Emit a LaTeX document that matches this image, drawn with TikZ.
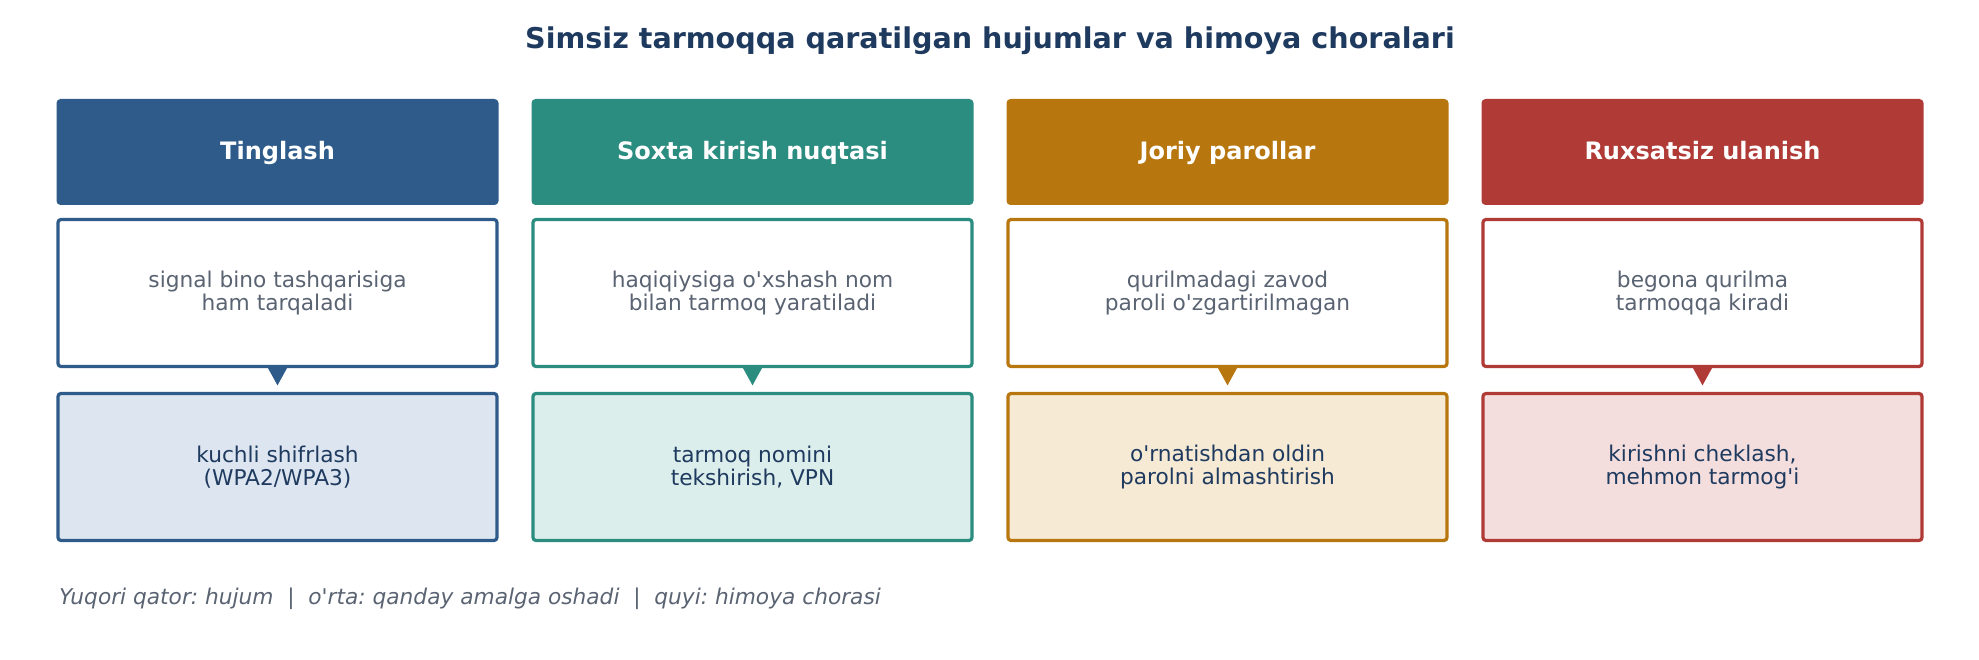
\documentclass[tikz,border=0pt]{standalone}
\usepackage{fontspec}
\setmainfont{DejaVu Sans}[Ligatures=TeXOff]
\usetikzlibrary{calc}
\definecolor{cblue}{HTML}{2E5B8A}
\definecolor{cteal}{HTML}{2B8C80}
\definecolor{corange}{HTML}{B8760F}
\definecolor{cred}{HTML}{B03A36}
\definecolor{lblue}{HTML}{DDE6F0}
\definecolor{lteal}{HTML}{DCEEEB}
\definecolor{lorange}{HTML}{F6EAD5}
\definecolor{lred}{HTML}{F3DEDD}
\definecolor{titlec}{HTML}{1F3A5F}
\definecolor{greyc}{HTML}{5A6372}
\tikzset{
  hdr/.style={fill=#1, draw=none, rounded corners=4pt, minimum width=442pt, minimum height=106pt, inner sep=0pt, text=white, text height=19.5pt, text depth=5pt, font=\fontsize{24}{28}\selectfont\bfseries},
  midbox/.style={draw=#1, fill=white, line width=3.2pt, rounded corners=3pt, minimum width=439pt, minimum height=147pt, inner sep=0pt, align=center, text=greyc, font=\fontsize{21.7}{22.5}\selectfont},
  protbox/.style={draw=#1, line width=3.2pt, rounded corners=3pt, minimum width=439pt, minimum height=147pt, inner sep=0pt, align=center, text=titlec, font=\fontsize{21.7}{23}\selectfont},
}
\newcommand{\pointer}[3]{%
  \fill[#3] ($(#1.south)+(-9.5,0)$) -- ($(#1.south)+(9.5,0)$) -- ($(#2.north)+(0,-6.5)$) -- cycle;}
\begin{document}
\frenchspacing
\begin{tikzpicture}[x=1pt,y=-1pt]
\useasboundingbox (0,0) rectangle (1979,660);
\node[font=\fontsize{28.6}{32}\selectfont\bfseries, text=titlec] (title) at (990,41) {Simsiz tarmoqqa qaratilgan hujumlar va himoya choralari};
% column 1
\node[hdr=cblue] (h1) at (277.5,152) {Tinglash};
\node[midbox=cblue] (m1) at (277.5,293) {signal bino tashqarisiga\\ham tarqaladi};
\node[protbox=cblue, fill=lblue] (b1) at (277.5,467) {kuchli shifrlash\\(WPA2/WPA3)};
\pointer{m1}{b1}{cblue}
% column 2
\node[hdr=cteal] (h2) at (752.5,152) {Soxta kirish nuqtasi};
\node[midbox=cteal] (m2) at (752.5,293) {haqiqiysiga o'xshash nom\\bilan tarmoq yaratiladi};
\node[protbox=cteal, fill=lteal] (b2) at (752.5,467) {tarmoq nomini\\tekshirish, VPN};
\pointer{m2}{b2}{cteal}
% column 3
\node[hdr=corange] (h3) at (1227.5,152) {Joriy parollar};
\node[midbox=corange] (m3) at (1227.5,293) {qurilmadagi zavod\\paroli o'zgartirilmagan};
\node[protbox=corange, fill=lorange] (b3) at (1227.5,467) {o'rnatishdan oldin\\parolni almashtirish};
\pointer{m3}{b3}{corange}
% column 4
\node[hdr=cred] (h4) at (1702.5,152) {Ruxsatsiz ulanish};
\node[midbox=cred] (m4) at (1702.5,293) {begona qurilma\\tarmoqqa kiradi};
\node[protbox=cred, fill=lred] (b4) at (1702.5,467) {kirishni cheklash,\\mehmon tarmog'i};
\pointer{m4}{b4}{cred}
% footer
\node[anchor=west, inner sep=0pt, text=greyc, font=\fontsize{21.7}{24}\selectfont\itshape] (foot) at (59,599) {Yuqori qator: hujum\ \ |\ \ o'rta: qanday amalga oshadi\ \ |\ \ quyi: himoya chorasi};
\end{tikzpicture}
\end{document}
